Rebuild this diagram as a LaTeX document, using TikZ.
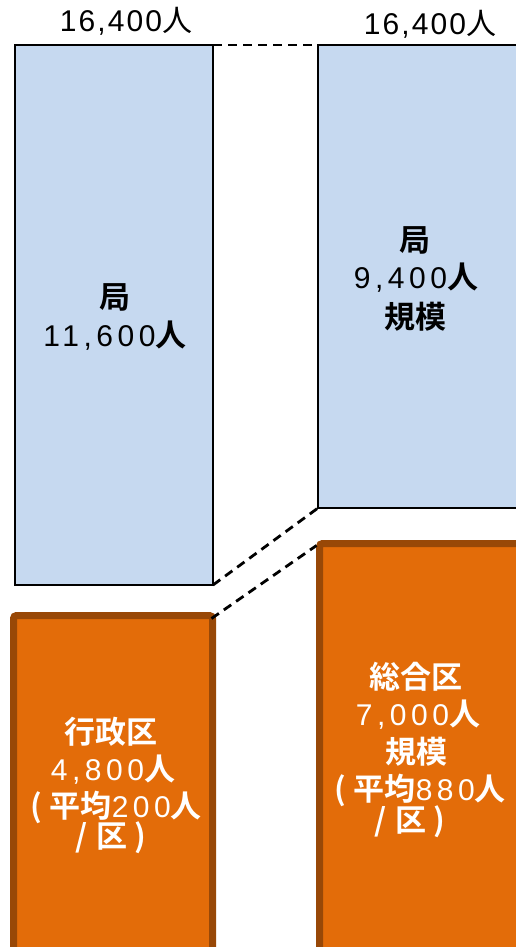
\documentclass[tikz,border=0pt]{standalone}
\usepackage{fontspec}
\setmainfont{Liberation Sans}
\newfontfamily\num[LetterSpace=15]{Liberation Sans}
\newfontfamily\numt[LetterSpace=7]{Liberation Sans}
\newfontfamily\cjk{Noto Sans CJK JP}
\newfontfamily\cjkb{Noto Sans CJK JP Bold}
\newcommand\cj[1]{{\fontsize{31}{31}\selectfont\cjkb #1}}
\newcommand\cjr[1]{{\fontsize{30}{30}\selectfont\cjk #1}}
\newcommand\lpar{\cj{(}\hspace{8pt}}
\newcommand\rpar{\hspace{7pt}\cj{)}}
\newcommand\slsh{\cj{/}\hspace{9pt}}
\definecolor{boxblue}{HTML}{C6D9F0}
\definecolor{boxorange}{HTML}{E36C09}
\definecolor{boxbrown}{HTML}{984807}
\tikzset{
  bluebox/.style={draw=black, line width=1.5pt, fill=boxblue, rectangle, inner sep=0pt, outer sep=0pt, anchor=north west},
  orangebox/.style={draw=boxbrown, line width=7pt, fill=boxorange, rectangle, rounded corners=3pt, inner sep=0pt, outer sep=0pt, anchor=north west},
  dashline/.style={draw=black, line width=2.8pt, dash pattern=on 9pt off 6pt},
  lbl/.style={font=\fontsize{30}{30}\selectfont, inner sep=0pt, anchor=center},
  wlbl/.style={lbl, text=white}
}
\begin{document}
\begin{tikzpicture}[x=1pt,y=-1pt]
\useasboundingbox (0,0) rectangle (516,947);
\fill[white] (0,0) rectangle (516,947);
% blue boxes
\node[bluebox, minimum width=198pt, minimum height=540pt] (LB) at (15,45) {};
\node[bluebox, minimum width=210pt, minimum height=463pt] (RB) at (318,45) {};
% orange boxes
\node[orangebox, minimum width=199pt, minimum height=350pt] (LO) at (13.5,615.5) {};
\node[orangebox, minimum width=210pt, minimum height=420pt] (RO) at (319.5,543.5) {};
% dashed connectors
\draw[dashline] (LB.north east) -- (RB.north west);
\draw[dashline] (LB.south east) -- (RB.south west);
\draw[dashline] ([xshift=-1pt,yshift=-3pt]LO.north east) -- ([xshift=-3pt,yshift=-2pt]RO.north west);
% top labels
\node[lbl] (t1) at (126,21) {{\numt 16,400}\cjr{人}};
\node[lbl] (t2) at (430,24) {{\numt 16,400}\cjr{人}};
% left blue
\node[lbl] (lb1) at (115,297) {\cj{局}};
\node[lbl] (lb2) at (115,336) {{\num 11,600}\cj{人}};
% right blue
\node[lbl] (rb1) at (415,240) {\cj{局}};
\node[lbl] (rb2) at (416,278) {{\num 9,400}\cj{人}};
\node[lbl] (rb3) at (415,317) {\cj{規模}};
% left orange
\node[wlbl] (lo1) at (111,732) {\cj{行政区}};
\node[wlbl] (lo2) at (113,770) {{\num 4,800}\cj{人}};
\node[wlbl] (lo3) at (116,807) {\lpar\cj{平均}{\num 200}\cj{人}};
\node[wlbl] (lo4) at (111,838) {\slsh\cj{区}\rpar};
% right orange
\node[wlbl] (ro1) at (416,677) {\cj{総合区}};
\node[wlbl] (ro2) at (418,715) {{\num 7,000}\cj{人}};
\node[wlbl] (ro3) at (416,752) {\cj{規模}};
\node[wlbl] (ro4) at (420,790) {\lpar\cj{平均}{\num 880}\cj{人}};
\node[wlbl] (ro5) at (410,822) {\slsh\cj{区}\rpar};
\end{tikzpicture}
\end{document}
